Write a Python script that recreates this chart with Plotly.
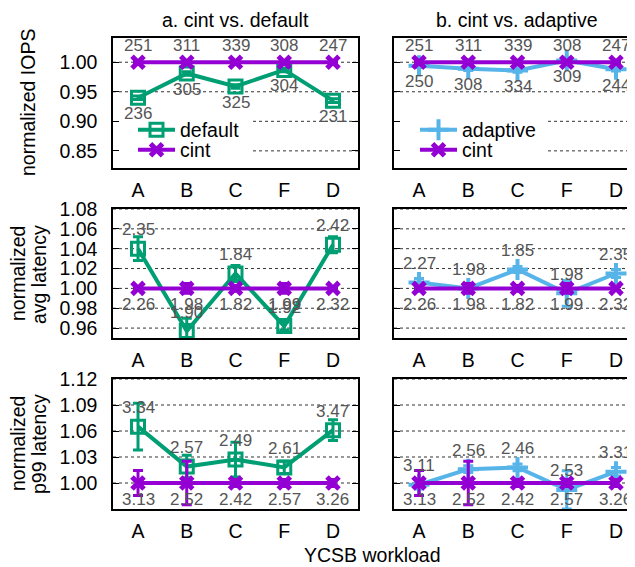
import plotly.graph_objects as go

# ---------------- data ----------------
workloads = ["A", "B", "C", "F", "D"]

# normalized IOPS
iops_default = [0.940, 0.981, 0.959, 0.987, 0.935]
iops_default_err = [0.003, 0.003, 0.003, 0.003, 0.003]
iops_cint = [1.000, 1.000, 1.000, 1.000, 1.000]
iops_cint_err = [0.002, 0.002, 0.002, 0.002, 0.002]
iops_adaptive = [0.994, 0.989, 0.986, 1.003, 0.988]
iops_adaptive_err = [0.003, 0.003, 0.003, 0.004, 0.003]
iops_default_lbl = ["236", "305", "325", "304", "231"]
iops_cint_lbl = ["251", "311", "339", "308", "247"]
iops_adaptive_lbl = ["250", "308", "334", "309", "244"]

# normalized avg latency
avg_default = [1.040, 0.957, 1.015, 0.962, 1.044]
avg_default_err = [0.012, 0.013, 0.008, 0.004, 0.008]
avg_cint = [1.000, 1.000, 1.000, 1.000, 1.000]
avg_cint_err = [0.002, 0.005, 0.003, 0.005, 0.002]
avg_adaptive = [1.006, 1.000, 1.019, 0.995, 1.015]
avg_adaptive_err = [0.004, 0.003, 0.003, 0.013, 0.004]
avg_default_lbl = ["2.35", "1.90", "1.84", "1.92", "2.42"]
avg_cint_lbl = ["2.26", "1.98", "1.82", "1.99", "2.32"]
avg_adaptive_lbl = ["2.27", "1.98", "1.85", "1.98", "2.35"]

# normalized p99 latency
p99_default = [1.065, 1.019, 1.027, 1.018, 1.061]
p99_default_err = [0.027, 0.013, 0.020, 0.007, 0.012]
p99_cint = [1.000, 1.000, 1.000, 1.000, 1.000]
p99_cint_err = [0.0145, 0.025, 0.004, 0.004, 0.004]
p99_adaptive = [0.998, 1.016, 1.018, 0.992, 1.013]
p99_adaptive_err = [0.005, 0.004, 0.004, 0.022, 0.005]
p99_default_lbl = ["3.34", "2.57", "2.49", "2.61", "3.47"]
p99_cint_lbl = ["3.13", "2.52", "2.42", "2.57", "3.26"]
p99_adaptive_lbl = ["3.11", "2.56", "2.46", "2.53", "3.31"]

panel_titles = ["a. cint vs. default", "b. cint vs. adaptive"]
row_titles = [["normalized IOPS"], ["normalized", "avg latency"], ["normalized", "p99 latency"]]
x_title = "YCSB workload"

# ---------------- style ----------------
OFF = 8                      # page body margin
W, H = 635 - OFF, 567 - OFF  # figure size so that the page does not overflow
GREEN = "#009E73"
PURPLE = "#9400D3"
BLUE = "#56B4E9"
LABEL = "#555555"
GRID = "#333333"
FONT = "Liberation Sans, Arial, sans-serif"
FS = 19.5
LFS = 17


def px(p):
    return (p - OFF) / W


def py(p):
    return 1 - (p - OFF) / H


col_px = [[113, 358], [394, 635]]
col_dom = [[px(113), px(358)], [px(394), 1.0]]
row_dom = [[py(168), py(38)], [py(338), py(209)], [py(509), py(379)]]
x_ranges = [[-0.513, 4.513], [-0.508, 4.386]]
y_ranges = [[0.821, 1.041], [0.95, 1.08], [0.97, 1.12]]
y_ticks = [[0.85, 0.90, 0.95, 1.00],
           [0.96, 0.98, 1.00, 1.02, 1.04, 1.06, 1.08],
           [1.00, 1.03, 1.06, 1.09, 1.12]]
key_right_px = [253, 548]      # grid is hidden behind the key in the top row
key_hidden_ticks = [0.85, 0.90]

rows = [
    dict(other=[iops_default, iops_adaptive], other_err=[iops_default_err, iops_adaptive_err],
         other_lbl=[iops_default_lbl, iops_adaptive_lbl], cint=iops_cint, cint_err=iops_cint_err,
         cint_lbl=iops_cint_lbl, cint_up=True),
    dict(other=[avg_default, avg_adaptive], other_err=[avg_default_err, avg_adaptive_err],
         other_lbl=[avg_default_lbl, avg_adaptive_lbl], cint=avg_cint, cint_err=avg_cint_err,
         cint_lbl=avg_cint_lbl, cint_up=False),
    dict(other=[p99_default, p99_adaptive], other_err=[p99_default_err, p99_adaptive_err],
         other_lbl=[p99_default_lbl, p99_adaptive_lbl], cint=p99_cint, cint_err=p99_cint_err,
         cint_lbl=p99_cint_lbl, cint_up=False),
]

other_names = ["default", "adaptive"]
other_colors = [GREEN, BLUE]
other_markers = [dict(symbol="square-open", size=13, lw=3),
                 dict(symbol="cross-thin", size=15, lw=4)]
# one legend per entry: (left: default, cint) (right: adaptive, cint)
legend_ids = [["legend", "legend2"], ["legend3", "legend4"]]

fig = go.Figure()
annotations = []
shapes = []
layout = {}

for r in range(3):
    R = rows[r]
    for c in range(2):
        k = r * 2 + c + 1
        xa = "x" if k == 1 else f"x{k}"
        ya = "y" if k == 1 else f"y{k}"
        col = other_colors[c]
        m = other_markers[c]
        fig.add_trace(go.Scatter(
            x=workloads, y=R["other"][c], name=other_names[c], mode="lines+markers",
            line=dict(color=col, width=4),
            marker=dict(symbol=m["symbol"], size=m["size"], color=col,
                        line=dict(width=m["lw"], color=col)),
            error_y=dict(type="data", array=R["other_err"][c], visible=True,
                         color=col, thickness=3, width=5),
            xaxis=xa, yaxis=ya, legend=legend_ids[c][0], showlegend=(r == 0)))
        fig.add_trace(go.Scatter(
            x=workloads, y=R["cint"], name="cint", mode="lines+markers",
            line=dict(color=PURPLE, width=4),
            marker=dict(symbol="x-thin", size=12, color=PURPLE, line=dict(width=5, color=PURPLE)),
            error_y=dict(type="data", array=R["cint_err"], visible=True,
                         color=PURPLE, thickness=3, width=5),
            xaxis=xa, yaxis=ya, legend=legend_ids[c][1], showlegend=(r == 0)))
        # value labels
        for i, w in enumerate(workloads):
            annotations.append(dict(
                x=w, y=R["cint"][i], xref=xa, yref=ya, text=R["cint_lbl"][i], showarrow=False,
                yanchor="middle", yshift=(17 if R["cint_up"] else -16),
                font=dict(family=FONT, size=LFS, color=LABEL)))
            annotations.append(dict(
                x=w, y=R["other"][c][i], xref=xa, yref=ya, text=R["other_lbl"][c][i], showarrow=False,
                yanchor="middle", yshift=(-16 if R["cint_up"] else 19),
                font=dict(family=FONT, size=LFS, color=LABEL)))

        # dotted grid lines (drawn as shapes so that the key can interrupt them)
        for t in y_ticks[r]:
            x0 = 0.0
            if r == 0 and t in key_hidden_ticks:
                x0 = (key_right_px[c] - col_px[c][0]) / (col_px[c][1] - col_px[c][0])
            shapes.append(dict(
                type="line", xref=f"{xa} domain", yref=ya, x0=x0, x1=1.0, y0=t, y1=t,
                layer="below", line=dict(color=GRID, width=1, dash="dot")))

        xname = "xaxis" if k == 1 else f"xaxis{k}"
        yname = "yaxis" if k == 1 else f"yaxis{k}"
        layout[xname] = dict(
            domain=col_dom[c], anchor=ya, type="category", categoryorder="array",
            categoryarray=workloads, range=x_ranges[c], showline=True, linecolor="black",
            linewidth=1.5, mirror=True, ticks="", showgrid=False, zeroline=False,
            tickfont=dict(family=FONT, size=FS, color="black"), ticklabelstandoff=4,
            automargin=False, fixedrange=True)
        layout[yname] = dict(
            domain=row_dom[r], anchor=xa, range=y_ranges[r], tickvals=y_ticks[r],
            tickformat=".2f", showline=True, linecolor="black", linewidth=1.5,
            mirror=("allticks" if c == 0 else False), ticks="inside", ticklen=6,
            tickcolor="black", tickwidth=1, showticklabels=(c == 0),
            showgrid=False, zeroline=False, tickfont=dict(family=FONT, size=FS, color="black"),
            ticklabelstandoff=10, automargin=False, fixedrange=True)

# panel titles
title_cx = [235.5, 517]
for c in range(2):
    annotations.append(dict(
        x=px(title_cx[c]), y=py(20), xref="paper", yref="paper", text=panel_titles[c],
        showarrow=False, xanchor="center", yanchor="middle",
        font=dict(family=FONT, size=FS, color="black")))

# row titles
row_centers = [103, 274, 444]
for r in range(3):
    lines = row_titles[r]
    xs = [28] if len(lines) == 1 else [18, 39]
    for t, xp in zip(lines, xs):
        annotations.append(dict(
            x=px(xp), y=py(row_centers[r]), xref="paper", yref="paper", text=t,
            showarrow=False, textangle=-90, xanchor="center", yanchor="middle",
            font=dict(family=FONT, size=FS, color="black")))

annotations.append(dict(
    x=px(372), y=py(555), xref="paper", yref="paper", text=x_title, showarrow=False,
    xanchor="center", yanchor="middle", font=dict(family=FONT, size=FS, color="black")))


def legend_at(xp, yp):
    return dict(x=px(xp), y=py(yp), xanchor="left", yanchor="middle", bgcolor="rgba(0,0,0,0)",
                font=dict(family=FONT, size=FS, color="black"), itemwidth=37,
                borderwidth=0, tracegroupgap=0)


layout.update(dict(
    width=W, height=H, margin=dict(l=0, r=0, t=0, b=0),
    paper_bgcolor="white", plot_bgcolor="white",
    font=dict(family=FONT, size=FS, color="black"),
    annotations=annotations, shapes=shapes,
    legend=legend_at(133, 130),
    legend2=legend_at(133, 150),
    legend3=legend_at(415, 130),
    legend4=legend_at(415, 150),
))
fig.update_layout(**layout)

fig.write_html("out.html")
